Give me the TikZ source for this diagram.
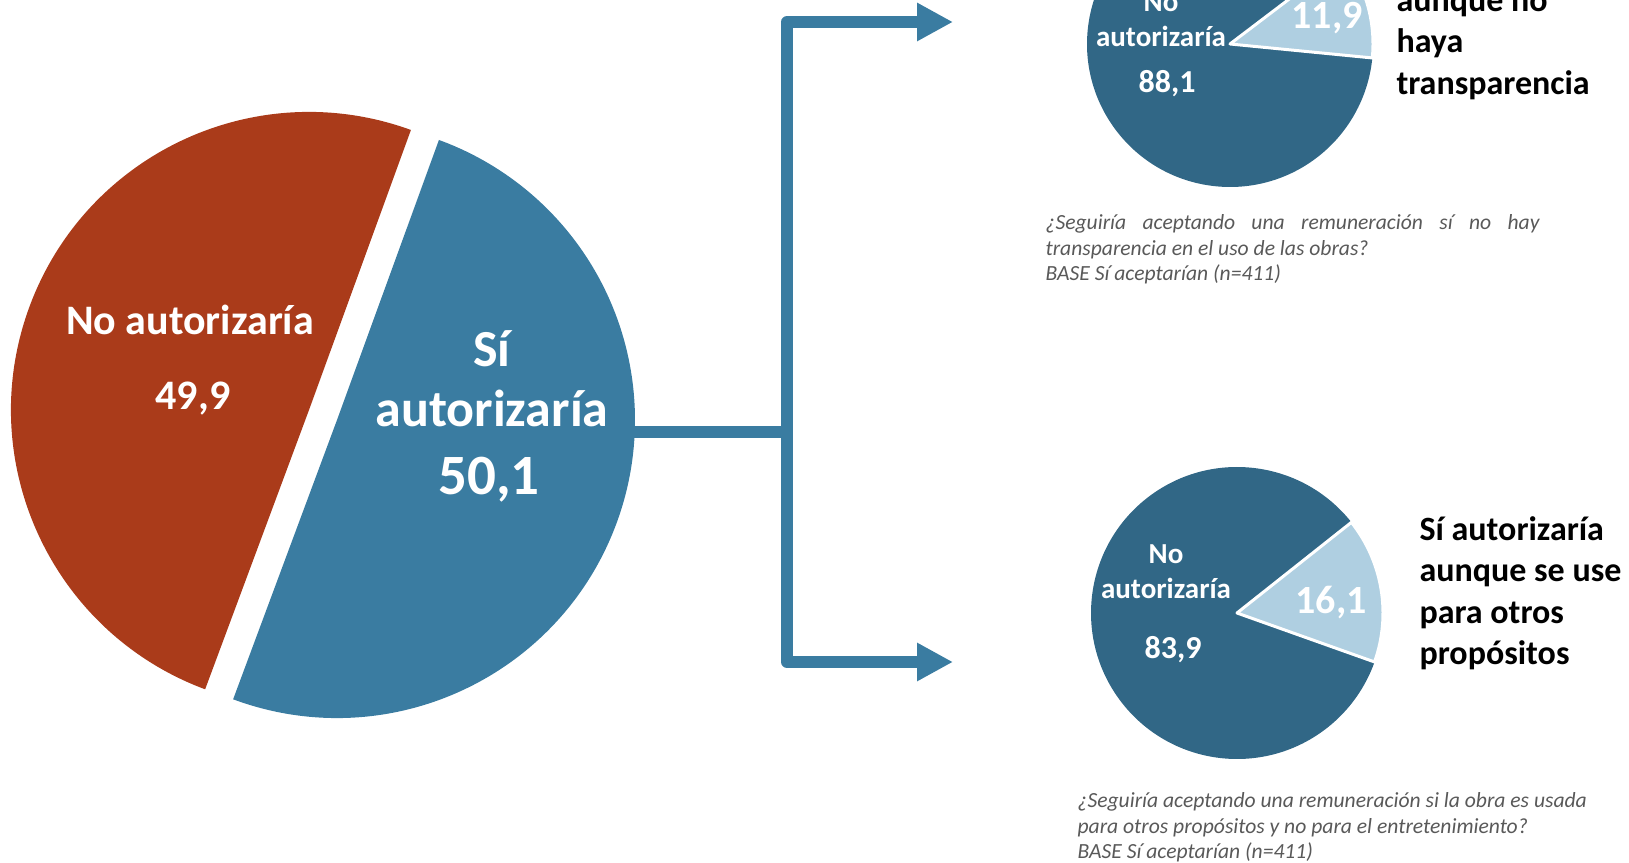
\documentclass[tikz,border=0pt]{standalone}
\usepackage{fontspec}
\setmainfont{Carlito}
\usepackage{tikz}
\usepackage{xcolor}
\usetikzlibrary{arrows.meta, positioning, calc}

\definecolor{noRed}{HTML}{AA3B1A}
\definecolor{siBlue}{HTML}{3A7CA1}
\definecolor{darkBlue}{HTML}{316786}
\definecolor{lightBlue}{HTML}{AFCFE1}
\definecolor{captGray}{HTML}{595959}

\begin{document}
\begin{tikzpicture}[x=1pt,y=1pt,
  biglabel/.style={text=white,font=\bfseries\fontsize{42}{50}\selectfont},
  silabel/.style={text=white,font=\bfseries\fontsize{52}{64}\selectfont,align=center},
  pielabel/.style={text=white,font=\bfseries\fontsize{29}{35}\selectfont,align=center},
  pieval/.style={text=white,font=\bfseries\fontsize{32}{38}\selectfont},
  wedgeval/.style={text=white,font=\bfseries\fontsize{40}{48}\selectfont},
  sidelabel/.style={anchor=west,font=\bfseries\fontsize{34}{41.5}\selectfont,align=left},
  capt/.style={anchor=north west,text=captGray,font=\itshape\fontsize{21.6}{25.5}\selectfont},
  slice/.style={draw=white,line width=3pt,line join=round},
  conn/.style={draw=siBlue,line width=12pt,line join=round},
  tip/.tip={Triangle[length=36pt,width=36pt]},
]
\useasboundingbox (0,0) rectangle (1629,862);
\clip (0,0) rectangle (1629,862);

% big pie
\coordinate (noC) at (309,452);
\coordinate (siC) at (337,442);
\fill[noRed] (noC) -- ++(70:298) arc (70:249.6:298) -- cycle;
\fill[siBlue] (siC) -- ++(249.6:298) arc (249.6:430:298) -- cycle;
\node[biglabel] (noLbl) at (190,542) {No autorizaría};
\node[biglabel] (noVal) at (193,463) {49,9};
\node[silabel] (siLbl) at (492,483) {Sí\\[-4pt]autorizaría};
\node[text=white,font=\bfseries\fontsize{57}{64}\selectfont] (siVal) at (489,382) {50,1};

% connector
\coordinate (siOut) at (630,430);
\coordinate (fork) at (787,430);
\coordinate (topTip) at (953,840);
\coordinate (botTip) at (953,200);
\draw[conn] (siOut) -- (fork);
\draw[conn,tip-tip] (topTip) -| (fork) |- (botTip);

% top pie
\coordinate (tC) at (1230,818);
\fill[darkBlue] (tC) -- ++(37.2:143) arc (37.2:354.4:143) -- cycle;
\filldraw[lightBlue,slice] (tC) -- ++(-5.6:143) arc (-5.6:37.2:143) -- cycle;
\node[pielabel] (tNo) at (1161,842) {No\\autorizaría};
\node[pieval] (tNoVal) at (1167,778) {88,1};
\node[wedgeval] (tSiVal) at (1327,844) {11,9};
\node[sidelabel] (tSide) at (1393,815) {aunque no\\haya\\transparencia};
\node[capt,text width=494pt,align=justify] (tCapt) at (1042,651)
  {¿Seguiría aceptando una remuneración sí no hay\linebreak transparencia en el uso de las obras?\\BASE Sí aceptarían (n=411)};

% bottom pie
\coordinate (bC) at (1237,249);
\fill[darkBlue] (bC) -- ++(38.4:146) arc (38.4:340.4:146) -- cycle;
\filldraw[lightBlue,slice] (bC) -- ++(-19.6:146) arc (-19.6:38.4:146) -- cycle;
\node[pielabel] (bNo) at (1166,290) {No\\autorizaría};
\node[pieval] (bNoVal) at (1173,212) {83,9};
\node[wedgeval] (bSiVal) at (1331,259) {16,1};
\node[sidelabel] (bSide) at (1416,269) {Sí autorizaría\\aunque se use\\para otros\\propósitos};
\node[capt,align=left] (bCapt) at (1074,73)
  {¿Seguiría aceptando una remuneración si la obra es usada\\para otros propósitos y no para el entretenimiento?\\BASE Sí aceptarían (n=411)};
\end{tikzpicture}
\end{document}
